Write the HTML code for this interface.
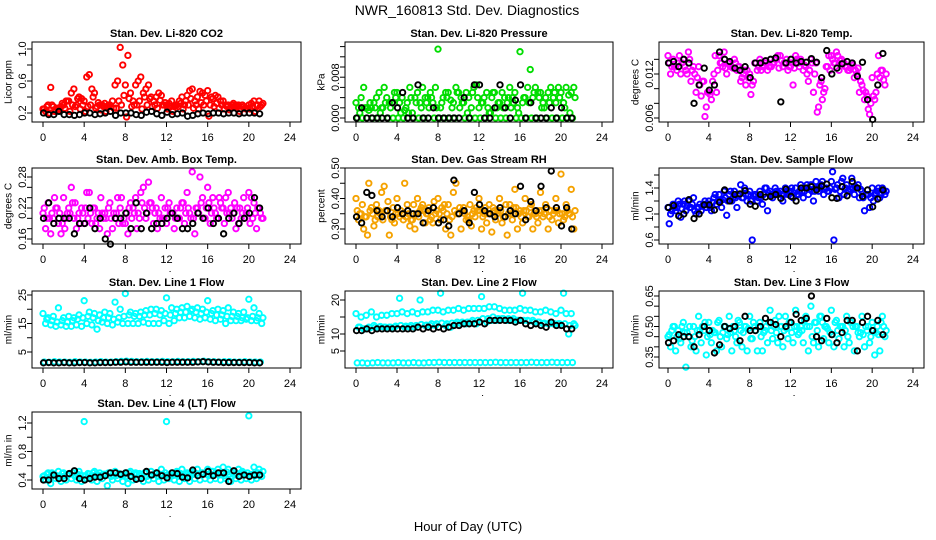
<!DOCTYPE html>
<html><head><meta charset="utf-8"><style>
body{margin:0;background:#fff;}
svg{display:block;font-family:"Liberation Sans",sans-serif;}
</style></head><body>
<svg id="c" width="936" height="540" viewBox="0 0 936 540">
<text x="467" y="15" font-size="14" text-anchor="middle">NWR_160813  Std. Dev. Diagnostics</text>
<text x="468" y="531" font-size="13" text-anchor="middle">Hour of Day (UTC)</text>
</svg>
<script>
const hours=[0,0.5,1,1.5,2,2.5,3,3.5,4,4.5,5,5.5,6,6.5,7,7.5,8,8.5,9,9.5,10,10.5,11,11.5,12,12.5,13,13.5,14,14.5,15,15.5,16,16.5,17,17.5,18,18.5,19,19.5,20,20.5,21];
const xTicks=[0,4,8,12,16,20,24];

const co2A=[0.25,0.3,0.28,0.25,0.3,0.35,0.5,0.4,0.35,0.68,0.45,0.3,0.32,0.3,0.55,1.02,0.55,0.45,0.55,0.65,0.5,0.4,0.4,0.42,0.3,0.35,0.3,0.4,0.42,0.5,0.4,0.45,0.48,0.38,0.4,0.35,0.3,0.32,0.3,0.28,0.3,0.35,0.35];
const co2B=[0.22,0.52,0.22,0.28,0.35,0.45,0.3,0.38,0.65,0.5,0.28,0.3,0.28,0.35,0.6,0.8,0.92,0.35,0.6,0.45,0.55,0.35,0.45,0.3,0.32,0.28,0.35,0.3,0.48,0.35,0.47,0.42,0.3,0.42,0.35,0.3,0.28,0.3,0.25,0.25,0.32,0.3,0.3];
const co2C=[0.25,0.2,0.22,0.24,0.26,0.22,0.28,0.25,0.22,0.3,0.26,0.24,0.22,0.28,0.26,0.3,0.15,0.28,0.3,0.25,0.3,0.28,0.26,0.3,0.25,0.22,0.28,0.25,0.3,0.26,0.25,0.3,0.16,0.28,0.26,0.25,0.24,0.28,0.22,0.26,0.25,0.22,0.28];
const co2D=[0.28,0.3,0.26,0.32,0.35,0.3,0.38,0.3,0.28,0.4,0.33,0.28,0.3,0.26,0.35,0.42,0.38,0.3,0.35,0.4,0.38,0.3,0.36,0.33,0.28,0.3,0.32,0.35,0.38,0.3,0.33,0.35,0.4,0.32,0.3,0.28,0.3,0.28,0.3,0.26,0.28,0.3,0.32];
const co2K=[0.2,0.18,0.18,0.22,0.18,0.18,0.17,0.18,0.2,0.2,0.18,0.19,0.2,0.22,0.17,0.2,0.2,0.2,0.18,0.17,0.21,0.22,0.19,0.17,0.21,0.18,0.19,0.2,0.16,0.17,0.19,0.2,0.19,0.2,0.2,0.19,0.2,0.2,0.19,0.2,0.2,0.2,0.19];

const presA=[0.003,0.004,0.002,0.002,0.004,0.002,0.004,0.003,0.005,0.004,0.003,0.001,0.005,0.006,0.004,0.003,0.0135,0.004,0.005,0.003,0.005,0.003,0.004,0.006,0.002,0.004,0.001,0.005,0.003,0.004,0.006,0.005,0.013,0.004,0.0095,0.006,0.005,0.004,0.006,0.003,0.005,0.006,0.005];
const presB=[0.002,0.006,0.0015,0.003,0.005,0.006,0.003,0.005,0.003,0.0015,0.006,0.004,0.003,0.004,0.005,0.006,0.002,0.005,0.0035,0.006,0.004,0.005,0.002,0.0065,0.003,0.005,0.004,0.002,0.005,0.003,0.004,0.002,0.003,0.006,0.004,0.005,0.003,0.005,0.004,0.006,0.003,0.0045,0.006];
const presC=[0,0,0.002,0,0,0.002,0,0,0,0,0.001,0,0,0,0.002,0,0,0,0,0,0.002,0,0,0,0,0,0.001,0,0,0,0.002,0,0,0,0,0,0.002,0,0,0,0,0,0];
const presD=[0.001,0.002,0.003,0.002,0.001,0.003,0.002,0.004,0.001,0.002,0.004,0.003,0.002,0.003,0.004,0.002,0.003,0.004,0.002,0.005,0.003,0.001,0.005,0.004,0.003,0.002,0.005,0.003,0.002,0.004,0.003,0.001,0.004,0.003,0.005,0.004,0.002,0.003,0.005,0.004,0.002,0.001,0.004];
const presK=[0,0.002,0,0,0,0,0,0.003,0.002,0.005,0,0,0.0065,0,0,0.002,0,0,0,0,0,0.004,0,0.0065,0.0065,0,0,0.002,0.0065,0.002,0,0.0035,0.0065,0,0.003,0,0,0,0.002,0,0.002,0,0];

const tempA=[0.0145,0.014,0.0135,0.014,0.015,0.013,0.013,0.011,0.0095,0.012,0.0145,0.015,0.0135,0.014,0.013,0.0125,0.012,0.0135,0.014,0.0135,0.013,0.014,0.0145,0.0135,0.013,0.0145,0.014,0.013,0.014,0.0135,0.011,0.013,0.0145,0.015,0.014,0.013,0.0135,0.012,0.0105,0.009,0.0115,0.012,0.0125];
const tempB=[0.012,0.013,0.012,0.0125,0.011,0.0095,0.009,0.0075,0.0085,0.0095,0.0135,0.012,0.013,0.0125,0.0115,0.0125,0.0105,0.0125,0.013,0.0125,0.0135,0.0145,0.013,0.0125,0.0105,0.0135,0.0125,0.011,0.0095,0.0075,0.0095,0.0145,0.0135,0.0125,0.0135,0.0125,0.0115,0.0095,0.0085,0.0065,0.0085,0.0115,0.0105];
const tempC=[0.0135,0.013,0.0145,0.013,0.014,0.012,0.0105,0.0062,0.0092,0.0145,0.0135,0.0128,0.013,0.0135,0.011,0.0105,0.0092,0.0135,0.0125,0.0138,0.013,0.014,0.0138,0.014,0.0135,0.014,0.0135,0.012,0.0135,0.0068,0.0085,0.013,0.014,0.0145,0.0135,0.0125,0.0132,0.0128,0.0098,0.0072,0.009,0.0145,0.0112];
const tempD=[0.013,0.0125,0.0135,0.012,0.0125,0.0115,0.011,0.0095,0.011,0.0125,0.013,0.0135,0.0128,0.013,0.012,0.0115,0.011,0.013,0.0132,0.013,0.0135,0.0128,0.0135,0.013,0.0128,0.013,0.0132,0.0125,0.012,0.0105,0.01,0.0125,0.0135,0.0138,0.013,0.0128,0.0125,0.011,0.0095,0.008,0.0095,0.0125,0.012];
const tempK=[0.0135,0.0137,0.013,0.014,0.0135,0.008,0.0105,0.0128,0.0098,0.0105,0.015,0.014,0.0137,0.0128,0.0125,0.013,0.0115,0.0135,0.0135,0.0138,0.014,0.0142,0.0082,0.0135,0.014,0.0135,0.0137,0.0136,0.0141,0.0136,0.0115,0.0152,0.012,0.0128,0.0134,0.0137,0.0135,0.0117,0.0136,0.0085,0.0058,0.0105,0.0148];

const ambA=[0.21,0.23,0.2,0.19,0.24,0.22,0.2,0.21,0.19,0.25,0.22,0.18,0.21,0.23,0.2,0.22,0.19,0.23,0.24,0.25,0.2,0.23,0.22,0.24,0.19,0.21,0.22,0.23,0.25,0.29,0.22,0.24,0.26,0.24,0.2,0.22,0.25,0.21,0.19,0.24,0.25,0.23,0.22];
const ambB=[0.18,0.17,0.22,0.17,0.2,0.26,0.18,0.22,0.25,0.19,0.2,0.21,0.17,0.18,0.24,0.19,0.17,0.22,0.21,0.26,0.27,0.19,0.21,0.2,0.23,0.18,0.2,0.19,0.21,0.17,0.28,0.2,0.19,0.21,0.23,0.24,0.22,0.18,0.2,0.21,0.24,0.18,0.2];
const ambC=[0.22,0.2,0.24,0.21,0.18,0.21,0.23,0.19,0.22,0.21,0.19,0.24,0.2,0.2,0.21,0.24,0.21,0.2,0.18,0.23,0.21,0.22,0.18,0.2,0.22,0.21,0.2,0.23,0.22,0.2,0.21,0.2,0.23,0.22,0.24,0.19,0.21,0.23,0.22,0.2,0.19,0.21,0.21];
const ambD=[0.2,0.21,0.22,0.19,0.21,0.23,0.2,0.21,0.2,0.22,0.21,0.2,0.22,0.21,0.19,0.2,0.22,0.21,0.2,0.22,0.23,0.21,0.2,0.22,0.21,0.2,0.22,0.21,0.2,0.22,0.23,0.22,0.21,0.2,0.22,0.21,0.2,0.22,0.21,0.22,0.2,0.22,0.2];
const ambK=[0.2,0.23,0.19,0.2,0.2,0.2,0.17,0.19,0.19,0.22,0.18,0.2,0.16,0.15,0.2,0.2,0.21,0.18,0.23,0.18,0.21,0.18,0.19,0.19,0.2,0.21,0.2,0.18,0.18,0.19,0.21,0.2,0.22,0.19,0.2,0.17,0.2,0.21,0.19,0.2,0.21,0.24,0.22];

const rhA=[0.4,0.35,0.34,0.37,0.38,0.42,0.36,0.33,0.4,0.35,0.38,0.33,0.4,0.38,0.35,0.32,0.4,0.36,0.38,0.42,0.35,0.37,0.33,0.36,0.4,0.35,0.38,0.36,0.4,0.34,0.38,0.43,0.36,0.4,0.37,0.35,0.42,0.38,0.36,0.4,0.48,0.38,0.43];
const rhB=[0.33,0.3,0.45,0.31,0.36,0.44,0.28,0.32,0.34,0.45,0.31,0.3,0.36,0.32,0.33,0.35,0.33,0.3,0.28,0.45,0.3,0.33,0.31,0.37,0.3,0.32,0.29,0.35,0.32,0.28,0.33,0.3,0.32,0.34,0.3,0.32,0.34,0.3,0.35,0.32,0.33,0.35,0.3];
const rhC=[0.36,0.38,0.28,0.35,0.34,0.33,0.39,0.37,0.35,0.33,0.35,0.38,0.34,0.36,0.37,0.39,0.35,0.38,0.33,0.36,0.37,0.35,0.38,0.34,0.36,0.37,0.35,0.33,0.36,0.38,0.35,0.37,0.34,0.36,0.38,0.34,0.36,0.37,0.33,0.36,0.35,0.36,0.34];
const rhD=[0.35,0.34,0.36,0.33,0.35,0.36,0.34,0.35,0.36,0.34,0.33,0.35,0.37,0.35,0.34,0.36,0.37,0.35,0.34,0.35,0.36,0.34,0.35,0.36,0.34,0.35,0.37,0.36,0.34,0.35,0.37,0.35,0.36,0.34,0.35,0.36,0.35,0.34,0.36,0.35,0.34,0.35,0.36];
const rhK=[0.34,0.32,0.42,0.41,0.36,0.34,0.36,0.34,0.37,0.35,0.36,0.35,0.35,0.32,0.36,0.37,0.32,0.33,0.31,0.46,0.35,0.36,0.32,0.42,0.38,0.36,0.35,0.34,0.37,0.34,0.36,0.35,0.44,0.33,0.39,0.36,0.44,0.37,0.49,0.37,0.31,0.37,0.3];

const flowA=[1.1,1.15,1.2,1.15,1.2,1.25,1.1,1.15,1.2,1.25,1.3,1.35,1.3,1.35,1.3,1.4,1.35,1.3,1.35,1.4,1.35,1.4,1.35,1.4,1.35,1.4,1.45,1.4,1.45,1.5,1.45,1.4,1.5,1.4,1.5,1.45,1.55,1.4,1.35,1.3,1.4,1.35,1.4];
const flowB=[1.0,1.05,0.95,1.05,1.1,1.0,1.05,1.1,1.05,1.15,1.1,0.98,1.2,1.1,1.25,1.2,0.6,1.2,1.15,1.05,1.25,1.3,1.2,1.3,1.25,1.3,1.25,1.3,1.2,1.35,1.3,1.35,0.6,1.25,1.3,1.35,1.3,1.25,1.05,1.1,1.3,1.25,1.3];
const flowC=[0.85,1.1,1.15,1.2,1.1,1.05,1.15,1.2,1.1,1.3,1.2,1.25,1.35,1.25,1.45,1.3,1.2,1.3,1.25,1.4,1.3,1.35,1.3,1.35,1.4,1.3,1.35,1.45,1.35,1.4,1.5,1.35,1.65,1.45,1.55,1.35,1.4,1.45,1.25,1.3,1.2,1.4,1.35];
const flowD=[1.05,1.1,1.08,1.12,1.15,1.1,1.12,1.15,1.18,1.2,1.22,1.2,1.25,1.28,1.25,1.3,1.28,1.25,1.3,1.32,1.3,1.32,1.3,1.35,1.32,1.35,1.35,1.38,1.35,1.4,1.38,1.4,1.38,1.35,1.4,1.38,1.42,1.38,1.3,1.25,1.32,1.3,1.35];
const flowK=[1.1,1.13,0.97,1.0,1.22,0.93,1.0,1.14,1.14,1.06,1.18,1.37,1.2,1.3,1.31,1.36,1.15,1.12,1.3,1.26,1.27,1.3,1.24,1.38,1.27,1.2,1.4,1.4,1.42,1.37,1.43,1.46,1.25,1.24,1.42,1.28,1.5,1.4,1.27,1.37,1.11,1.23,1.37];

const l1A=[18.5,17,17.5,20.5,17,17.5,17,18,23,19,18.5,18,19,18.5,22.5,20,25.5,19,18.5,19,19.5,20,20,19.5,24,20.5,20,20.5,21,20,20.5,20,23,19.5,20,19.5,20.5,19,18.5,19,23.5,20.5,18.5];
const l1B=[15,14.5,14,14.5,14,14,14.5,14,15,14.5,13,15.5,15,14.5,15.5,15,15,15,15,15.5,15,15,15,16,15,16,17,17,17.5,17,16.5,17,16.5,16,16.5,15,16,16,16,16.5,16,16,15];
const l1C=[1.5,1.4,1.6,1.5,1.5,1.4,1.6,1.5,1.5,1.4,1.5,1.6,1.5,1.5,1.6,1.7,1.8,1.7,1.6,1.6,1.7,1.6,1.6,1.7,1.6,1.6,1.7,1.6,1.6,1.7,1.6,1.8,1.6,1.6,1.5,1.6,1.6,1.5,1.5,1.6,1.5,1.5,1.5];
const l1D=[16.5,16,15.5,16,15.5,16,16.5,17,17.5,17,16,17,17,16.5,17,17.5,18,17.5,17.5,18,18,18.5,18,18.5,18,18.5,19,19,19.5,19,18.5,19,18.5,18,18,17.5,17.5,17.5,17,17,17.5,17,17];
const l1K=[1.2,1.3,1.2,1.2,1.3,1.2,1.2,1.3,1.3,1.2,1.2,1.3,1.3,1.3,1.4,1.4,1.5,1.4,1.4,1.4,1.4,1.4,1.4,1.4,1.3,1.4,1.4,1.4,1.4,1.4,1.5,1.6,1.5,1.4,1.4,1.3,1.3,1.3,1.3,1.3,1.3,1.2,1.2];

const l2A=[16,15,15.5,16.5,15,15.5,15.5,16,16,16.5,16,16.5,16,16.5,16.5,17,17,16.5,17,17,17.5,17,17.5,17.5,17.5,17.5,18,18,17.5,17,17,17,17.5,17,17,16.5,16.5,17,16.5,16,17,16,16];
const l2B=[12,11.5,12,12.5,12,12,12,12,20.5,12,12,12,20,12.5,12.5,12.5,22,12.5,12,13,13,13,13.5,13,21,13.5,14,14,14.5,14,14,14,22,14,14,13.5,13,13,13,13,22,10,13];
const l2C=[1.5,1.5,1.4,1.5,1.6,1.5,1.5,1.5,1.6,1.5,1.5,1.6,1.5,1.5,1.6,1.6,1.7,1.6,1.6,1.6,1.6,1.6,1.6,1.6,1.6,1.6,1.6,1.7,1.6,1.6,1.6,1.6,1.6,1.6,1.7,1.6,1.6,1.6,1.7,1.6,1.6,1.6,1.6];
const l2D=[12,11.5,11.8,12,12.2,12,12,12.3,12.5,12.3,12.5,12.5,12.8,12.6,13,13,13.2,13,13.2,13.5,13.5,13.5,14,14,14.5,14.5,15,14.5,14.5,14.5,14.5,14,14,13.8,13.5,13.5,13.2,13,13,13,13,12.5,12.5];
const l2K=[11,11,11.5,11,11.5,11.5,11.5,11.5,11.5,11.5,11.5,11.5,12,11.5,12,11.5,12,11.5,12,12.5,12.5,13,13,13,13.5,13,14,14,14,14,14,13.5,14,13,12.5,13,12.5,12,13.5,12.5,12.5,11.5,11.5];

const l3A=[0.45,0.5,0.48,0.52,0.45,0.5,0.55,0.48,0.52,0.47,0.53,0.5,0.55,0.48,0.52,0.5,0.55,0.5,0.52,0.48,0.58,0.53,0.5,0.55,0.52,0.58,0.5,0.55,0.6,0.52,0.55,0.5,0.58,0.53,0.5,0.55,0.52,0.5,0.55,0.48,0.52,0.5,0.55];
const l3B=[0.4,0.38,0.42,0.3,0.4,0.38,0.42,0.36,0.42,0.38,0.4,0.44,0.38,0.42,0.4,0.38,0.44,0.38,0.38,0.42,0.44,0.42,0.4,0.44,0.42,0.46,0.42,0.38,0.42,0.4,0.44,0.42,0.4,0.44,0.4,0.42,0.38,0.45,0.4,0.42,0.36,0.38,0.45];
const l3C=[0.46,0.5,0.44,0.47,0.5,0.45,0.48,0.52,0.46,0.47,0.45,0.5,0.47,0.45,0.48,0.5,0.44,0.48,0.45,0.5,0.48,0.47,0.5,0.49,0.47,0.5,0.48,0.5,0.45,0.48,0.52,0.49,0.46,0.48,0.5,0.45,0.5,0.47,0.46,0.5,0.48,0.46,0.5];
const l3D=[0.48,0.45,0.5,0.47,0.43,0.48,0.5,0.45,0.48,0.52,0.47,0.46,0.5,0.53,0.47,0.49,0.52,0.5,0.47,0.52,0.5,0.55,0.48,0.52,0.5,0.47,0.53,0.5,0.52,0.55,0.5,0.47,0.52,0.5,0.48,0.52,0.5,0.47,0.5,0.45,0.47,0.52,0.48];
const l3K=[0.42,0.43,0.46,0.45,0.45,0.4,0.46,0.5,0.48,0.37,0.41,0.5,0.49,0.5,0.43,0.55,0.48,0.48,0.5,0.54,0.52,0.51,0.45,0.5,0.52,0.56,0.53,0.54,0.65,0.45,0.43,0.54,0.46,0.42,0.47,0.53,0.53,0.38,0.52,0.55,0.48,0.53,0.46];

const l4A=[0.45,0.5,0.48,0.52,0.5,0.48,0.5,0.52,1.22,0.48,0.52,0.5,0.48,0.5,0.52,0.48,0.5,0.52,0.5,0.48,0.5,0.52,0.5,0.55,1.22,0.5,0.52,0.55,0.5,0.52,0.55,0.5,0.55,0.52,0.55,0.58,0.55,0.52,0.55,0.5,1.3,0.58,0.55];
const l4B=[0.4,0.35,0.42,0.38,0.4,0.42,0.4,0.38,0.42,0.4,0.38,0.42,0.32,0.4,0.42,0.38,0.35,0.4,0.42,0.38,0.4,0.42,0.38,0.4,0.42,0.4,0.38,0.42,0.38,0.42,0.4,0.42,0.4,0.42,0.4,0.42,0.38,0.42,0.4,0.42,0.4,0.42,0.45];
const l4C=[0.46,0.44,0.47,0.45,0.46,0.48,0.45,0.47,0.46,0.45,0.47,0.46,0.48,0.45,0.46,0.47,0.45,0.46,0.48,0.46,0.45,0.47,0.46,0.48,0.47,0.46,0.48,0.47,0.46,0.48,0.47,0.49,0.46,0.48,0.47,0.46,0.48,0.47,0.46,0.48,0.47,0.46,0.48];
const l4D=[0.48,0.5,0.46,0.49,0.47,0.5,0.48,0.46,0.49,0.5,0.47,0.48,0.5,0.46,0.49,0.47,0.5,0.48,0.49,0.5,0.47,0.49,0.48,0.5,0.47,0.5,0.49,0.48,0.5,0.49,0.5,0.48,0.52,0.5,0.49,0.51,0.5,0.49,0.52,0.5,0.48,0.5,0.52];
const l4K=[0.4,0.4,0.47,0.42,0.42,0.49,0.53,0.42,0.4,0.42,0.44,0.44,0.46,0.5,0.5,0.48,0.5,0.45,0.41,0.42,0.52,0.47,0.5,0.46,0.43,0.5,0.49,0.44,0.43,0.54,0.46,0.48,0.52,0.46,0.5,0.5,0.38,0.53,0.45,0.47,0.45,0.47,0.47];

const ticks1=[0.2,0.4,0.6,0.8,1.0], labels1=["0.2","","0.6","","1.0"];
const ticks2=[0,0.002,0.004,0.006,0.008,0.010,0.012,0.014], labels2=["0.000","","","","0.008","","",""];
const ticks3=[0.006,0.008,0.010,0.012,0.014], labels3=["0.006","","","0.012",""];
const ticks4=[0.16,0.18,0.20,0.22,0.24,0.26,0.28], labels4=["0.16","","","0.22","","","0.28"];
const ticks5=[0.30,0.35,0.40,0.45,0.50], labels5=["0.30","","0.40","","0.50"];
const ticks6=[0.6,0.8,1.0,1.2,1.4,1.6], labels6=["0.6","","1.0","","1.4",""];
const ticks7=[5,10,15,20,25], labels7=["5","","15","","25"];
const ticks8=[5,10,15,20], labels8=["5","10","","20"];
const ticks9=[0.35,0.40,0.45,0.50,0.55,0.60,0.65], labels9=["0.35","","","0.50","","","0.65"];
const ticks10=[0.4,0.6,0.8,1.0,1.2], labels10=["0.4","","0.8","","1.2"];

const NS="http://www.w3.org/2000/svg";
const svg=document.getElementById('c');
const cols=[{l:32,r:301,x0:43,x24:290},{l:345,r:613,x0:356,x24:602},{l:659,r:924,x0:668,x24:913}];
const rows=[{t:42,b:122},{t:168,b:244},{t:291,b:368},{t:412,b:489}];
function mk(tag,attrs,parent){const e=document.createElementNS(NS,tag);for(const k in attrs)e.setAttribute(k,attrs[k]);(parent||svg).appendChild(e);return e;}

const panels=[
 {key:'co2',title:'Stan. Dev. Li-820 CO2',ylab:'Licor ppm',c:0,r:0,color:'#ff0000',s:[co2C,co2A,co2B,co2D],k:co2K,ref:[0.2,113,1.0,49],ticks:ticks1,labels:labels1},
 {key:'pressure',title:'Stan. Dev. Li-820 Pressure',ylab:'kPa',c:1,r:0,color:'#00dd00',s:[presC,presA,presB,presD],k:presK,ref:[0,118,0.008,77.2],ticks:ticks2,labels:labels2},
 {key:'li-temp',title:'Stan. Dev. Li-820 Temp.',ylab:'degrees C',c:2,r:0,color:'#ff00ff',s:[tempC,tempA,tempB,tempD],k:tempK,ref:[0.012,74,0.006,118],ticks:ticks3,labels:labels3},
 {key:'amb-temp',title:'Stan. Dev. Amb. Box Temp.',ylab:'degrees C',c:0,r:1,color:'#ff00ff',s:[ambC,ambA,ambB,ambD],k:ambK,ref:[0.28,177,0.16,239],ticks:ticks4,labels:labels4},
 {key:'rh',title:'Stan. Dev. Gas Stream RH',ylab:'percent',c:1,r:1,color:'#f5a200',s:[rhC,rhA,rhB,rhD],k:rhK,ref:[0.5,168,0.3,229],ticks:ticks5,labels:labels5},
 {key:'sample-flow',title:'Stan. Dev. Sample Flow',ylab:'ml/min',c:2,r:1,color:'#0000ff',s:[flowC,flowA,flowB,flowD],k:flowK,ref:[1.4,188,0.6,240],ticks:ticks6,labels:labels6},
 {key:'line1',title:'Stan. Dev. Line 1 Flow',ylab:'ml/min',c:0,r:2,color:'#00ffff',s:[l1C,l1A,l1B,l1D],k:l1K,ref:[25,295,5,352],ticks:ticks7,labels:labels7},
 {key:'line2',title:'Stan. Dev. Line 2 Flow',ylab:'ml/min',c:1,r:2,color:'#00ffff',s:[l2C,l2A,l2B,l2D],k:l2K,ref:[20,300,5,351],ticks:ticks8,labels:labels8},
 {key:'line3',title:'Stan. Dev. Line 3 Flow',ylab:'ml/min',c:2,r:2,color:'#00ffff',s:[l3C,l3A,l3B,l3D],k:l3K,ref:[0.65,296,0.35,357],ticks:ticks9,labels:labels9},
 {key:'line4',title:'Stan. Dev. Line 4 (LT) Flow',ylab:'ml/m in',c:0,r:3,color:'#00ffff',s:[l4C,l4A,l4B,l4D],k:l4K,ref:[1.2,423,0.4,480],ticks:ticks10,labels:labels10}
];
const offsets=[0.12,0,0.25,0.37];

panels.forEach(p=>{
  const C=cols[p.c],R=rows[p.r];
  const g=mk('g',{});
  
  
  const xs=h=>C.x0+(C.x24-C.x0)*h/24;
  const ys=v=>p.ref[1]+(v-p.ref[0])*(p.ref[3]-p.ref[1])/(p.ref[2]-p.ref[0]);
  const pts=mk('g',{fill:'none','stroke-width':1.9},g);
  
  
  p.s.forEach((arr,si)=>{
    arr.forEach((v,i)=>{ if(i>=hours.length)return;
      const c=mk('circle',{cx:xs(hours[i]+offsets[si]),cy:ys(v),r:2.7,stroke:p.color},pts);
      
      
    });
  });
  p.k.forEach((v,i)=>{ if(i>=hours.length)return;
    const c=mk('circle',{cx:xs(hours[i]+0.05),cy:ys(v),r:2.7,stroke:'#000'},pts);
    
    
  });
  const box=mk('rect',{x:C.l,y:R.t,width:C.r-C.l,height:R.b-R.t,fill:'none',stroke:'#000','stroke-width':1},g);
  
  
  const t=mk('text',{x:(C.l+C.r)/2,y:R.t-5,'font-size':11,'font-weight':'bold','text-anchor':'middle'},g);
  t.textContent=p.title;
  
  
  const xa=mk('g',{},g);
  
  
  mk('line',{x1:xs(0),x2:xs(24),y1:R.b,y2:R.b,stroke:'#000'},xa);
  xTicks.forEach(h=>{
    mk('line',{x1:xs(h),x2:xs(h),y1:R.b,y2:R.b+5,stroke:'#000'},xa);
    const tl=mk('text',{x:xs(h),y:R.b+19,'font-size':11,'text-anchor':'middle'},xa);
    tl.textContent=h;
    
    
  });
  mk('rect',{x:xs(12.3),y:R.b+27,width:1,height:1,fill:'#000'},xa);
  const ya=mk('g',{},g);
  
  
  const tt=p.ticks;
  mk('line',{x1:C.l,x2:C.l,y1:ys(tt[0]),y2:ys(tt[tt.length-1]),stroke:'#000'},ya);
  tt.forEach((v,i)=>{
    const y=ys(v);
    mk('line',{x1:C.l-5,x2:C.l,y1:y,y2:y,stroke:'#000'},ya);
    if(p.labels[i]){
      const tl=mk('text',{x:C.l-10,y:y,'font-size':11,'text-anchor':'middle',transform:`rotate(-90 ${C.l-10} ${y})`,dy:'0.35em'},ya);
      tl.textContent=p.labels[i];
      
      
    }
  });
  const yl=mk('text',{x:C.l-24,y:(R.t+R.b)/2,'font-size':10,'text-anchor':'middle',transform:`rotate(-90 ${C.l-24} ${(R.t+R.b)/2})`,dy:'0.35em'},ya);
  yl.textContent=p.ylab;
  
  
});
</script>
</body></html>
